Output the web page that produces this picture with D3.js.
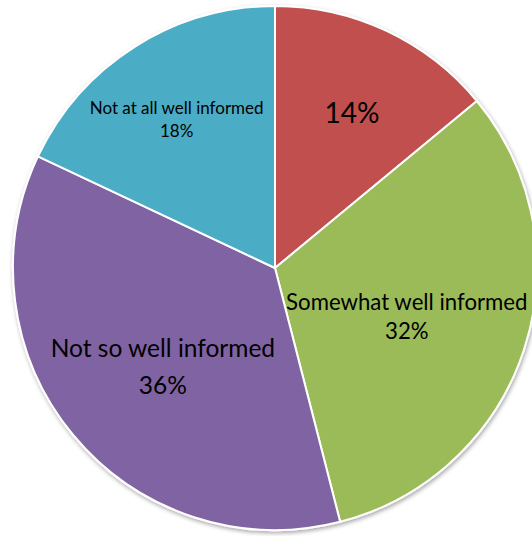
<!DOCTYPE html>
<html>
<head>
<meta charset="utf-8">
<script src="https://cdn.jsdelivr.net/npm/d3@7"></script>
<style>
  body { margin: 0; background: #fff; }
  svg { display: block; }
  .lbl { font-family: Lato, "Open Sans", sans-serif; fill: #000; }
</style>
</head>
<body>
<svg id="chart" width="532" height="536"></svg>
<script>
// Data
var categories = ["Very well informed", "Somewhat well informed", "Not so well informed", "Not at all well informed"];
var values = [14, 32, 36, 18];
var showName = [false, true, true, true];
var colors = ["#C0504D", "#9BBB59", "#8064A2", "#4BACC6"];

// label styling per slice
var labelRadius = [0.68, 0.545, 0.6, 0.665];
var labelNudge = [[1, 16], [-4, -2], [9, -11], [-5, -7]]; // first baseline, relative to centroid
var labelGap = [0, 29, 37, 23];
var labelSize = [28, 22.2, 24.5, 17];

var svg = d3.select("#chart");
var cx = 275, cy = 268, radius = 262;

// soft shadow like the office chart
var defs = svg.append("defs");
var f = defs.append("filter").attr("id", "shadow")
  .attr("x", "-10%").attr("y", "-10%").attr("width", "120%").attr("height", "120%");
f.append("feDropShadow").attr("dx", 1).attr("dy", 2).attr("stdDeviation", 2)
  .attr("flood-color", "#000").attr("flood-opacity", 0.35);

var g = svg.append("g").attr("transform", "translate(" + cx + "," + cy + ")");

var pie = d3.pie().sort(null).value(function(d) { return d; });
var arcs = pie(values);

var arc = d3.arc().innerRadius(0).outerRadius(radius);

g.append("g").attr("filter", "url(#shadow)")
  .selectAll("path")
  .data(arcs)
  .enter().append("path")
  .attr("d", arc)
  .attr("fill", function(d, i) { return colors[i]; })
  .attr("stroke", "#fff")
  .attr("stroke-width", 2)
  .attr("stroke-linejoin", "round");

// Labels
var labels = g.selectAll(".lbl")
  .data(arcs)
  .enter().append("text")
  .attr("class", "lbl")
  .attr("text-anchor", "middle")
  .attr("font-size", function(d, i) { return labelSize[i]; })
  .attr("transform", function(d, i) {
    var r = radius * labelRadius[i];
    var c = d3.arc().innerRadius(r).outerRadius(r).centroid(d);
    return "translate(" + (c[0] + labelNudge[i][0]) + "," + (c[1] + labelNudge[i][1]) + ")";
  });

labels.each(function(d, i) {
  var t = d3.select(this);
  var pct = values[i] + "%";
  if (showName[i]) {
    t.append("tspan").attr("x", 0).attr("y", 0).text(categories[i]);
    t.append("tspan").attr("x", 0).attr("y", labelGap[i]).text(pct);
  } else {
    t.append("tspan").attr("x", 0).attr("y", 0).text(pct);
  }
});
</script>
</body>
</html>
